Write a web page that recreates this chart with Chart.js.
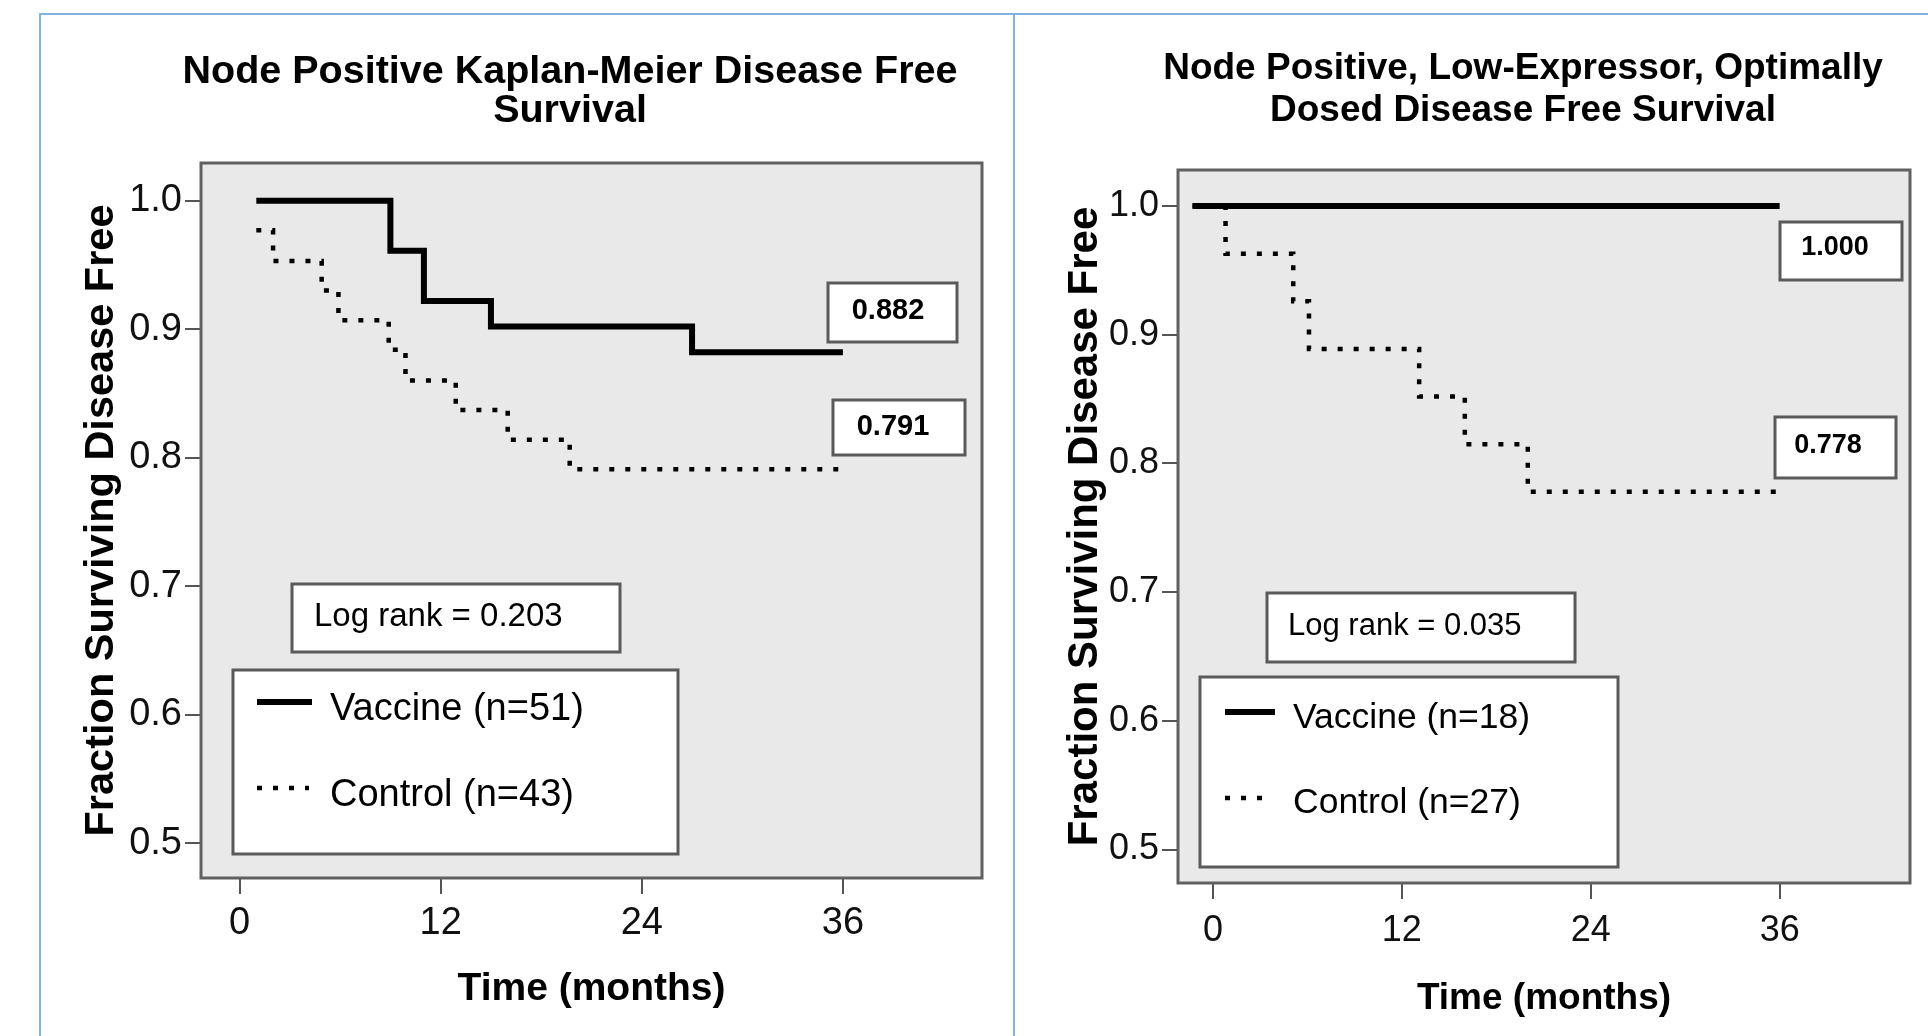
<!DOCTYPE html>
<html>
<head>
<meta charset="utf-8">
<script src="https://cdn.jsdelivr.net/npm/chart.js@4.4.0/dist/chart.umd.min.js"></script>
<style>
  body { margin: 0; background: #fff; width: 1928px; height: 1036px; overflow: hidden; position: relative; }
  .rule { position: absolute; background: #80b3e4; }
  canvas { position: absolute; top: 0; }
</style>
</head>
<body>
<div class="rule" style="left:39px;top:13px;width:1889px;height:2px"></div>
<div class="rule" style="left:39px;top:13px;width:2px;height:1023px"></div>
<div class="rule" style="left:1013px;top:13px;width:2px;height:1023px"></div>
<canvas id="left" width="1014" height="1036" style="left:0"></canvas>
<canvas id="right" width="914" height="1036" style="left:1014px"></canvas>
<script>
const FONT = '"Liberation Sans", Arial, sans-serif';

const monthTicks = [0, 12, 24, 36];
const fractionTicks = [0.5, 0.6, 0.7, 0.8, 0.9, 1.0];

// left: all node positive patients
const allVaccineMonths = [1, 9, 11, 15, 27, 36];
const allVaccineFraction = [1.0, 0.961, 0.922, 0.902, 0.882, 0.882];
const allControlMonths = [1, 2, 4.9, 5.9, 8.9, 9.9, 12.9, 16, 19.7, 36];
const allControlFraction = [0.977, 0.953, 0.930, 0.907, 0.884, 0.860, 0.837, 0.814, 0.791, 0.791];

// right: low-expressor, optimally dosed
const lowVaccineMonths = [-1.3, 36];
const lowVaccineFraction = [1.0, 1.0];
const lowControlMonths = [-1.3, 0.8, 5.1, 6.1, 13.1, 16, 20, 36];
const lowControlFraction = [1.0, 0.963, 0.926, 0.889, 0.852, 0.815, 0.778, 0.778];

function toPoints(months, fractions) {
    return months.map((m, i) => ({ x: m, y: fractions[i] }));
}

// background, frame, title and the boxed notes of one panel
function makeDecor(d) {
    return {
        id: 'decor',
        beforeDraw(chart) {
            const { ctx, chartArea: a } = chart;
            ctx.save();
            ctx.fillStyle = '#e9e9e9';
            ctx.fillRect(a.left, a.top, a.right - a.left, a.bottom - a.top);
            ctx.restore();
        },
        beforeDatasetsDraw(chart) {
            const { ctx, chartArea: a } = chart;
            ctx.save();
            ctx.strokeStyle = '#606060';
            ctx.lineWidth = 3;
            ctx.strokeRect(a.left, a.top, a.right - a.left, a.bottom - a.top);
            ctx.restore();
        },
        afterDraw(chart) {
            const ctx = chart.ctx;
            const sets = chart.data.datasets;
            ctx.save();
            ctx.fillStyle = '#000';
            ctx.textBaseline = 'middle';

            ctx.textAlign = 'center';
            ctx.font = `bold ${d.titleSize}px ${FONT}`;
            d.title.forEach((line, i) => ctx.fillText(line, d.titleX, d.titleY[i]));

            const box = (b) => {
                ctx.fillStyle = '#fff';
                ctx.fillRect(b.x, b.y, b.w, b.h);
                ctx.strokeStyle = '#5a5a5a';
                ctx.lineWidth = 3;
                ctx.strokeRect(b.x, b.y, b.w, b.h);
                ctx.fillStyle = '#000';
            };

            ctx.font = `bold ${d.valueSize}px ${FONT}`;
            d.values.forEach(v => {
                box(v);
                ctx.fillText(v.text, v.tx, v.ty);
            });

            box(d.logrank);
            ctx.textAlign = 'left';
            ctx.font = `${d.logrank.size}px ${FONT}`;
            ctx.fillText(d.logrank.text, d.logrank.tx, d.logrank.ty);

            box(d.legend);
            ctx.font = `${d.legend.size}px ${FONT}`;
            d.legend.rows.forEach((r, i) => {
                const ds = sets[i];
                ctx.save();
                ctx.strokeStyle = ds.borderColor;
                ctx.lineWidth = ds.borderWidth;
                ctx.setLineDash(ds.borderDash || []);
                ctx.beginPath();
                ctx.moveTo(r.x0, r.sy);
                ctx.lineTo(r.x1, r.sy);
                ctx.stroke();
                ctx.restore();
                ctx.fillText(ds.label, d.legend.tx, r.ty);
            });
            ctx.restore();
        }
    };
}

function makePanel(id, p) {
    return new Chart(document.getElementById(id), {
        type: 'line',
        data: {
            datasets: [
                {
                    label: p.vaccineLabel,
                    data: toPoints(p.vaccineMonths, p.vaccineFraction),
                    stepped: 'before',
                    borderColor: '#000',
                    borderWidth: 6,
                    borderCapStyle: 'butt',
                    pointRadius: 0,
                    fill: false
                },
                {
                    label: p.controlLabel,
                    data: toPoints(p.controlMonths, p.controlFraction),
                    stepped: 'before',
                    borderColor: '#000',
                    borderWidth: 4.5,
                    borderDash: [5, 11],
                    borderCapStyle: 'butt',
                    pointRadius: 0,
                    fill: false
                }
            ]
        },
        options: {
            responsive: false,
            animation: false,
            layout: { padding: { left: 0, top: p.top, right: p.right, bottom: 0 } },
            plugins: { legend: { display: false }, tooltip: { enabled: false } },
            scales: {
                x: {
                    type: 'linear',
                    min: p.xMin,
                    max: p.xMax,
                    afterBuildTicks: s => { s.ticks = monthTicks.map(v => ({ value: v })); },
                    afterFit: s => { s.height = p.xAxisHeight; },
                    border: { display: false },
                    grid: { drawOnChartArea: false, drawTicks: true, tickLength: 16, color: '#555', lineWidth: 2 },
                    ticks: { color: '#111', font: { family: FONT, size: p.tickSize }, padding: p.xTickPad, maxRotation: 0, autoSkip: false },
                    title: { display: true, text: 'Time (months)', color: '#000', font: { family: FONT, size: p.xTitleSize, weight: 'bold' }, padding: { top: 0, bottom: p.xTitlePad } }
                },
                y: {
                    min: p.yMin,
                    max: p.yMax,
                    afterBuildTicks: s => { s.ticks = fractionTicks.map(v => ({ value: v })); },
                    afterFit: s => { s.width = p.yAxisWidth; },
                    border: { display: false },
                    grid: { drawOnChartArea: false, drawTicks: true, tickLength: 16, color: '#555', lineWidth: 2 },
                    ticks: { color: '#111', font: { family: FONT, size: p.tickSize }, padding: 3, callback: v => v.toFixed(1) },
                    title: { display: true, text: 'Fraction Surviving Disease Free', color: '#000', font: { family: FONT, size: p.yTitleSize, weight: 'bold' }, padding: { top: p.yTitlePad, bottom: 0 } }
                }
            }
        },
        plugins: [makeDecor(p.decor)]
    });
}

makePanel('left', {
    vaccineLabel: 'Vaccine (n=51)', controlLabel: 'Control (n=43)',
    vaccineMonths: allVaccineMonths, vaccineFraction: allVaccineFraction,
    controlMonths: allControlMonths, controlFraction: allControlFraction,
    top: 163, right: 32, xAxisHeight: 158, yAxisWidth: 201,
    xMin: -2.3, xMax: 44.3, yMin: 0.4729, yMax: 1.0293,
    tickSize: 38, xTickPad: 7, xTitleSize: 39, xTitlePad: 23, yTitleSize: 41.5, yTitlePad: 77,
    decor: {
        title: ['Node Positive Kaplan-Meier Disease Free', 'Survival'],
        titleX: 570, titleY: [72, 111], titleSize: 39.5, valueSize: 29,
        values: [
            { text: '0.882', x: 828, y: 283, w: 129, h: 59, tx: 888, ty: 311 },
            { text: '0.791', x: 833, y: 400, w: 132, h: 55, tx: 893, ty: 427 }
        ],
        logrank: { text: 'Log rank = 0.203', x: 292, y: 584, w: 328, h: 68, tx: 314, ty: 617, size: 33 },
        legend: {
            x: 233, y: 670, w: 445, h: 184, tx: 330, size: 38,
            rows: [{ x0: 257, x1: 312, sy: 702, ty: 710 }, { x0: 257, x1: 309, sy: 788, ty: 796 }]
        }
    }
});

makePanel('right', {
    vaccineLabel: 'Vaccine (n=18)', controlLabel: 'Control (n=27)',
    vaccineMonths: lowVaccineMonths, vaccineFraction: lowVaccineFraction,
    controlMonths: lowControlMonths, controlFraction: lowControlFraction,
    top: 170, right: 18, xAxisHeight: 153, yAxisWidth: 164,
    xMin: -2.22, xMax: 44.28, yMin: 0.474, yMax: 1.028,
    tickSize: 36, xTickPad: 10, xTitleSize: 37, xTitlePad: 15, yTitleSize: 42, yTitlePad: 46,
    decor: {
        title: ['Node Positive, Low-Expressor, Optimally', 'Dosed Disease Free Survival'],
        titleX: 509, titleY: [69, 111], titleSize: 37, valueSize: 27,
        values: [
            { text: '1.000', x: 766, y: 222, w: 122, h: 58, tx: 821, ty: 248 },
            { text: '0.778', x: 761, y: 417, w: 121, h: 61, tx: 814, ty: 446 }
        ],
        logrank: { text: 'Log rank = 0.035', x: 253, y: 593, w: 308, h: 69, tx: 274, ty: 626, size: 31 },
        legend: {
            x: 186, y: 677, w: 418, h: 190, tx: 279, size: 35.5,
            rows: [{ x0: 211, x1: 261, sy: 712, ty: 718 }, { x0: 211, x1: 258, sy: 798, ty: 803 }]
        }
    }
});
</script>
</body>
</html>
